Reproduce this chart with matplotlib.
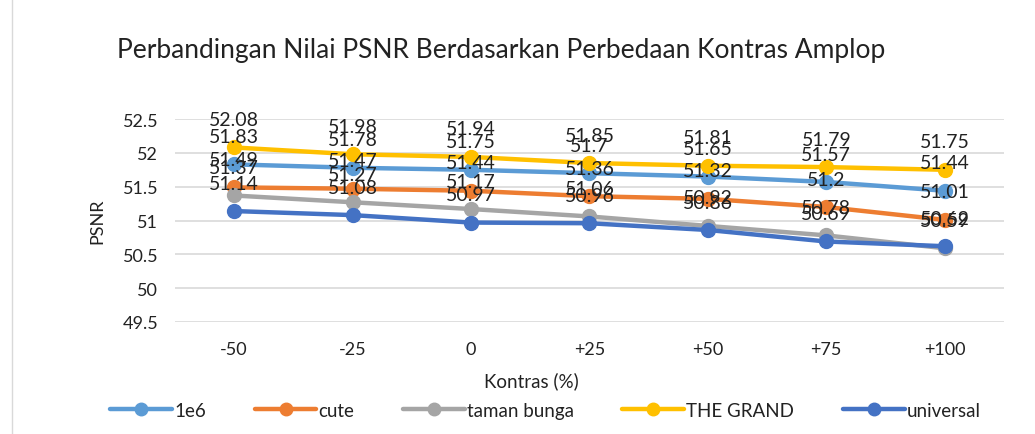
import matplotlib.pyplot as plt
from matplotlib.patches import Rectangle

kontras = ['-50', '-25', '0', '+25', '+50', '+75', '+100']
seri_1e6 = [51.83, 51.78, 51.75, 51.7, 51.65, 51.57, 51.44]
seri_cute = [51.49, 51.47, 51.44, 51.36, 51.32, 51.2, 51.01]
seri_taman = [51.37, 51.27, 51.17, 51.06, 50.92, 50.78, 50.59]
seri_grand = [52.08, 51.98, 51.94, 51.85, 51.81, 51.79, 51.75]
seri_universal = [51.14, 51.08, 50.97, 50.96, 50.86, 50.69, 50.62]
y_ticks = [49.5, 50, 50.5, 51, 51.5, 52, 52.5]

plt.rcParams['font.family'] = ['Lato', 'DejaVu Sans']
teks = '#222222'

seri = [
    ('1e6', seri_1e6, '#5B9BD5'),
    ('cute', seri_cute, '#ED7D31'),
    ('taman bunga', seri_taman, '#A5A5A5'),
    ('THE GRAND', seri_grand, '#FFC000'),
    ('universal', seri_universal, '#4472C4'),
]

fig = plt.figure(figsize=(10.35, 4.35), dpi=100)
ax = fig.add_axes([0.169, 0.2575, 0.801, 0.4665])
x = list(range(len(kontras)))

for nama, nilai, warna in seri:
    ax.plot(x, nilai, color=warna, lw=3.2, marker='o', markersize=10, label=nama,
            solid_capstyle='round')
for nama, nilai, warna in seri:
    for xi, v in zip(x, nilai):
        ax.annotate(f'{v:g}', (xi, v), xytext=(0, 14), textcoords='offset points',
                    ha='center', va='bottom', fontsize=14, color=teks)

ax.set_xlim(-0.5, len(kontras) - 0.5)
ax.set_ylim(49.5, 52.5)
ax.set_yticks(y_ticks)
ax.set_yticklabels([f'{t:g}' for t in y_ticks])
ax.set_xticks(x)
ax.set_xticklabels(kontras)
ax.tick_params(axis='both', length=0, labelsize=13, colors=teks)
ax.tick_params(axis='x', pad=14)
ax.tick_params(axis='y', pad=12)
ax.grid(axis='y', color='#D9D9D9', lw=1.2)
ax.set_axisbelow(True)
for s in ax.spines.values():
    s.set_visible(False)

ax.set_ylabel('PSNR', fontsize=13, color=teks, labelpad=12)
fig.text(531 / 1035, 1 - 381 / 435, 'Kontras (%)', ha='center', va='center',
         fontsize=13.5, color=teks)
fig.text(0.484, 0.885, 'Perbandingan Nilai PSNR Berdasarkan Perbedaan Kontras Amplop',
         ha='center', va='center', fontsize=19, color=teks)

ax.legend(loc='center', bbox_to_anchor=(0.527, 0.055), bbox_transform=fig.transFigure,
          ncol=5, frameon=False, fontsize=13.5, handlelength=3.3, columnspacing=2.6,
          handletextpad=0.1, markerscale=0.9, labelcolor=teks)

fig.patches.append(Rectangle((0.012, -0.01), 0.99, 1.05, transform=fig.transFigure,
                             fill=False, edgecolor='#D9D9D9', lw=1))

plt.savefig('out.png', dpi=100)
